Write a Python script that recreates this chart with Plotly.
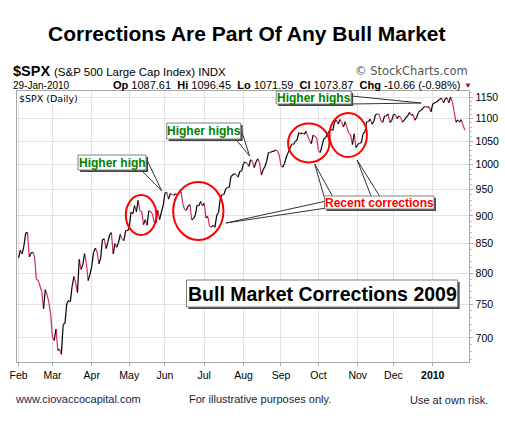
import math
import plotly.graph_objects as go

W, H = 505, 424

# ---- data: S&P 500 daily closes, Feb 2009 - Jan 2010 ----
feb09_days = [2, 3, 4, 5, 6, 9, 10, 11, 12, 13, 17, 18, 19, 20, 23, 24, 25, 26, 27]
feb09_close = [825.44, 838.51, 832.23, 845.85, 868.60, 869.89, 827.16, 833.74, 835.19, 826.84,
               789.17, 788.42, 778.94, 770.05, 743.33, 773.14, 764.90, 752.83, 735.09]
mar09_days = [2, 3, 4, 5, 6, 9, 10, 11, 12, 13, 16, 17, 18, 19, 20, 23, 24, 25, 26, 27, 30, 31]
mar09_close = [700.82, 696.33, 712.87, 682.55, 683.38, 676.53, 719.60, 721.36, 750.74, 756.55,
               753.89, 778.12, 794.35, 784.04, 768.54, 822.92, 806.12, 813.88, 832.86, 815.94,
               787.53, 797.87]
apr09_days = [1, 2, 3, 6, 7, 8, 9, 13, 14, 15, 16, 17, 20, 21, 22, 23, 24, 27, 28, 29, 30]
apr09_close = [811.08, 834.38, 842.50, 835.48, 815.55, 825.16, 856.56, 858.73, 841.50, 852.06,
               865.30, 869.60, 832.39, 850.08, 843.55, 851.92, 866.23, 857.51, 855.16, 873.64, 872.81]
may09_days = [1, 4, 5, 6, 7, 8, 11, 12, 13, 14, 15, 18, 19, 20, 21, 22, 26, 27, 28, 29]
may09_close = [877.52, 907.24, 903.80, 919.53, 907.39, 929.23, 909.24, 908.35, 883.92, 893.07,
               882.88, 909.71, 908.13, 903.47, 888.33, 887.00, 910.33, 893.06, 906.83, 919.14]
jun09_days = [1, 2, 3, 4, 5, 8, 9, 10, 11, 12, 15, 16, 17, 18, 19, 22, 23, 24, 25, 26, 29, 30]
jun09_close = [942.87, 944.74, 931.76, 942.46, 940.09, 939.14, 942.43, 939.15, 944.89, 946.21,
               923.72, 911.97, 910.71, 918.37, 921.23, 893.04, 895.10, 900.94, 920.26, 918.90,
               927.23, 919.32]
jul09_days = [1, 2, 6, 7, 8, 9, 10, 13, 14, 15, 16, 17, 20, 21, 22, 23, 24, 27, 28, 29, 30, 31]
jul09_close = [923.33, 896.42, 898.72, 881.03, 879.56, 882.68, 879.13, 901.05, 905.84, 932.68,
               940.74, 940.38, 951.13, 954.58, 954.07, 976.29, 979.26, 982.18, 979.62, 975.15,
               986.75, 987.48]
aug09_days = [3, 4, 5, 6, 7, 10, 11, 12, 13, 14, 17, 18, 19, 20, 21, 24, 25, 26, 27, 28, 31]
aug09_close = [1002.63, 1005.65, 1002.72, 997.08, 1010.48, 1007.10, 994.35, 1005.81, 1012.73,
               1004.09, 979.73, 989.67, 996.46, 1007.37, 1026.13, 1025.57, 1028.00, 1028.12,
               1030.98, 1028.93, 1020.62]
sep09_days = [1, 2, 3, 4, 8, 9, 10, 11, 14, 15, 16, 17, 18, 21, 22, 23, 24, 25, 28, 29, 30]
sep09_close = [998.04, 994.75, 1003.24, 1016.40, 1025.39, 1033.37, 1044.14, 1042.73, 1049.34,
               1052.63, 1068.76, 1065.49, 1068.30, 1064.66, 1071.66, 1060.87, 1050.78, 1044.38,
               1062.98, 1060.61, 1057.08]
oct09_days = [1, 2, 5, 6, 7, 8, 9, 12, 13, 14, 15, 16, 19, 20, 21, 22, 23, 26, 27, 28, 29, 30]
oct09_close = [1029.85, 1025.21, 1040.46, 1054.72, 1057.58, 1065.48, 1071.49, 1076.19, 1073.19,
               1092.02, 1096.56, 1087.68, 1097.91, 1091.06, 1081.40, 1092.91, 1079.60, 1066.95,
               1063.41, 1042.63, 1066.11, 1036.19]
nov09_days = [2, 3, 4, 5, 6, 9, 10, 11, 12, 13, 16, 17, 18, 19, 20, 23, 24, 25, 27, 30]
nov09_close = [1042.88, 1045.41, 1046.50, 1066.63, 1069.30, 1093.08, 1093.01, 1098.51, 1087.24,
               1093.48, 1109.30, 1110.32, 1109.80, 1094.90, 1091.38, 1106.24, 1105.65, 1110.63,
               1091.49, 1095.63]
dec09_days = [1, 2, 3, 4, 7, 8, 9, 10, 11, 14, 15, 16, 17, 18, 21, 22, 23, 24, 28, 29, 30, 31]
dec09_close = [1108.86, 1109.24, 1099.92, 1105.98, 1103.25, 1091.94, 1095.95, 1102.35, 1106.41,
               1114.11, 1107.93, 1109.18, 1096.08, 1102.47, 1114.05, 1118.02, 1120.59, 1126.48,
               1127.78, 1126.20, 1126.42, 1115.10]
jan10_days = [4, 5, 6, 7, 8, 11, 12, 13, 14, 15, 19, 20, 21, 22, 25, 26, 27, 28, 29]
jan10_close = [1132.99, 1136.52, 1137.14, 1141.69, 1144.98, 1146.98, 1136.22, 1145.68, 1148.46,
               1136.03, 1150.23, 1138.04, 1116.48, 1091.76, 1096.78, 1092.17, 1097.50, 1084.53,
               1073.87]

months = [("2009-02", feb09_days, feb09_close), ("2009-03", mar09_days, mar09_close),
          ("2009-04", apr09_days, apr09_close), ("2009-05", may09_days, may09_close),
          ("2009-06", jun09_days, jun09_close), ("2009-07", jul09_days, jul09_close),
          ("2009-08", aug09_days, aug09_close), ("2009-09", sep09_days, sep09_close),
          ("2009-10", oct09_days, oct09_close), ("2009-11", nov09_days, nov09_close),
          ("2009-12", dec09_days, dec09_close), ("2010-01", jan10_days, jan10_close)]

month_labels = ["Feb", "Mar", "Apr", "May", "Jun", "Jul", "Aug", "Sep", "Oct", "Nov", "Dec", "<b>2010</b>"]
y_ticks = [700, 750, 800, 850, 900, 950, 1000, 1050, 1100, 1150]

dates, closes, month_starts = [], [], []
for ym, days, cl in months:
    ds = [f"{ym}-{d:02d}" for d in days]
    month_starts.append(ds[0])
    dates += ds
    closes += cl

# up (black) / down (red) colored segments
up_x, up_y, dn_x, dn_y = [], [], [], []
for i in range(1, len(closes)):
    if closes[i] >= closes[i - 1]:
        up_x += [dates[i - 1], dates[i], None]; up_y += [closes[i - 1], closes[i], None]
    else:
        dn_x += [dates[i - 1], dates[i], None]; dn_y += [closes[i - 1], closes[i], None]

FONT = "Liberation Sans, Arial, sans-serif"
RED_LINE = "#d42a5e"

fig = go.Figure()
fig.add_trace(go.Scatter(x=dn_x, y=dn_y, mode="lines", line=dict(color=RED_LINE, width=1.2),
                         connectgaps=False, hoverinfo="skip", showlegend=False))
fig.add_trace(go.Scatter(x=up_x, y=up_y, mode="lines", line=dict(color="#000000", width=1.2),
                         connectgaps=False, hoverinfo="skip", showlegend=False))


def px(x):
    return x / W


def py(y):
    return 1 - y / H


shapes = []
annotations = []


def text(x, y, s, size, color="#000", anchor="left", bold=False, family=FONT, bg=None):
    annotations.append(dict(x=px(x), y=py(y), xref="paper", yref="paper", text=(f"<b>{s}</b>" if bold else s),
                            showarrow=False, xanchor=anchor, yanchor="middle",
                            font=dict(size=size, color=color, family=family),
                            bgcolor=bg, borderpad=0))


def box(x0, y0, x1, y1, shadow=True):
    if shadow:
        shapes.append(dict(type="rect", xref="paper", yref="paper", x0=px(x0 + 2), x1=px(x1 + 2),
                           y0=py(y1 + 2), y1=py(y0 + 2), fillcolor="#444444", line=dict(width=0), layer="above"))
    shapes.append(dict(type="rect", xref="paper", yref="paper", x0=px(x0), x1=px(x1),
                       y0=py(y1), y1=py(y0), fillcolor="white", line=dict(color="#808080", width=1), layer="above"))


def wedge(b1, b2, tip):
    path = (f"M {px(b1[0])},{py(b1[1])} L {px(tip[0])},{py(tip[1])} "
            f"L {px(b2[0])},{py(b2[1])} Z")
    shapes.append(dict(type="path", xref="paper", yref="paper", path=path, fillcolor="white",
                       line=dict(color="#333333", width=1), layer="above"))


def ellipse(cx, cy, rx, ry):
    shapes.append(dict(type="circle", xref="paper", yref="paper", x0=px(cx - rx), x1=px(cx + rx),
                       y0=py(cy + ry), y1=py(cy - ry), line=dict(color="#ff0000", width=2), layer="above"))


# circles
ellipse(136, 215, 15.5, 20)
ellipse(194, 211, 25.5, 29)
ellipse(306, 143, 21, 19.5)
ellipse(346, 135, 19, 22)

# callout wedges
wedge((136, 170), (141, 158), (157, 191))
wedge((231, 138), (237, 128), (246, 156))
wedge((349, 96), (349, 104), (420, 103))
wedge((322, 198), (331, 198), (312, 164))
wedge((370, 198), (379, 198), (355, 160))
wedge((324, 201), (324, 208), (222, 223))

# boxes
box(72, 155, 141, 170)
box(162, 123, 237, 139)
box(273, 91, 349, 104)
box(322, 196, 433, 209)
box(182, 280, 457, 307)

text(106.5, 163, "Higher high", 12, "#008000", "center", bold=True)
text(199.5, 131, "Higher highs", 12, "#008000", "center", bold=True)
text(311, 98, "Higher highs", 12, "#008000", "center", bold=True)
text(377.5, 203, "Recent corrections", 12, "#ff0000", "center", bold=True)
text(319.5, 293.5, "Bull Market Corrections 2009", 19.5, "#000", "center", bold=True)

# headers
text(243, 33, "Corrections Are Part Of Any Bull Market", 21, "#000", "center", bold=True)
text(5, 71, "$SPX", 14.5, "#000", bold=True)
text(47, 72, "(S&P 500 Large Cap Index) INDX", 11.5, "#000")
text(5, 85, "29-Jan-2010", 10, "#000")
text(460, 85, "<b>Op</b> 1087.61  <b>Hi</b> 1096.45  <b>Lo</b> 1071.59  <b>Cl</b> 1073.87  <b>Chg</b> -10.66 (-0.98%)",
     11, "#000", "right")
text(462, 85, "▼", 8, "#a0143c")
text(468, 71, "© StockCharts.com", 11.5, "#555555", "right", family="DejaVu Sans, sans-serif")
text(11, 98.5, "$SPX (Daily)", 9.5, "#000", family="DejaVu Sans, sans-serif", bg="white")

# footer
text(7, 399, "www.ciovaccocapital.com", 11, "#1c1c4a")
text(257, 399, "For illustrative purposes only.", 11, "#1c1c3a", "center")
text(448, 400, "Use at own risk.", 11, "#1c1c3a", "center")

GRID = "#e2e2e2"
FRAME = "#a8a8a8"

fig.update_layout(
    width=W, height=H, margin=dict(l=0, r=0, t=0, b=0),
    paper_bgcolor="white", plot_bgcolor="white", showlegend=False,
    shapes=shapes, annotations=annotations,
    xaxis=dict(domain=[10 / W, 469 / W], type="category", categoryorder="array", categoryarray=dates,
               range=[-0.94, 252.6], tickmode="array", tickvals=month_starts, ticktext=month_labels,
               showgrid=True, gridcolor=GRID, gridwidth=1, showline=True, mirror=True, linecolor=FRAME,
               ticks="outside", ticklen=3, tickcolor=FRAME, zeroline=False,
               tickfont=dict(family=FONT, size=10.5, color="#000")),
    yaxis=dict(domain=[1 - 362 / H, 1 - 91 / H], type="log",
               range=[math.log10(666), math.log10(1164.3)], side="right",
               tickmode="array", tickvals=y_ticks, ticktext=[str(v) for v in y_ticks],
               showgrid=True, gridcolor=GRID, gridwidth=1, showline=True, mirror=True, linecolor=FRAME,
               ticks="outside", ticklen=3, tickcolor=FRAME, zeroline=False,
               minor=dict(tickvals=list(range(670, 1170, 10)), ticks="outside", ticklen=2, tickcolor="#c0c0c0"),
               tickfont=dict(family=FONT, size=10.5, color="#000")),
)

fig.write_html("out.html")
